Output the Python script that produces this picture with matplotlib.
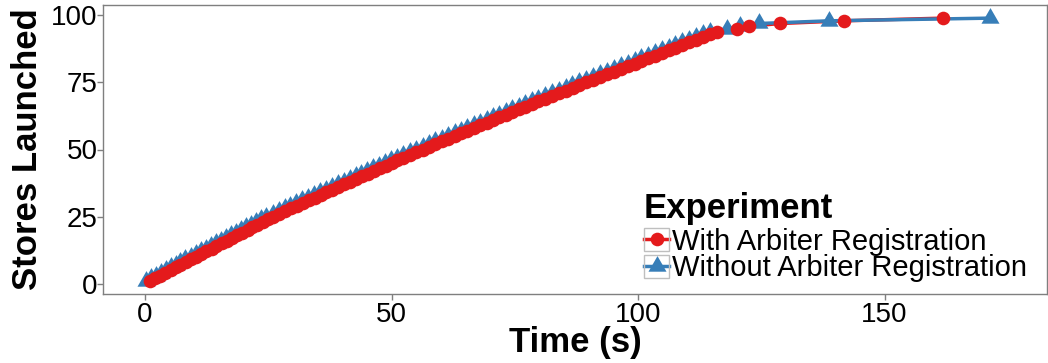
import matplotlib
matplotlib.use("Agg")
import matplotlib.pyplot as plt
from matplotlib.lines import Line2D
from matplotlib.patches import Rectangle

# ---- data ----
with_time = [1.0, 2.0, 3.1, 4.1, 5.2, 6.2, 7.2, 8.3, 9.3, 10.4, 11.4, 12.4, 13.5, 14.5, 15.6,
             16.6, 17.6, 18.7, 19.7, 20.8, 21.8, 22.8, 23.9, 24.9, 26.0,
             27.2, 28.4, 29.6, 30.8, 32.0, 33.2, 34.4, 35.6, 36.8, 38.0, 39.2, 40.4, 41.6, 42.8,
             44.0, 45.2, 46.4, 47.6, 48.8, 50.0, 51.2, 52.4,
             53.7, 55.0, 56.3, 57.6, 58.9, 60.2, 61.5, 62.8, 64.1, 65.4, 66.7, 68.0, 69.3, 70.6,
             71.9, 73.2, 74.5, 75.8, 77.1, 78.4,
             79.8, 81.2, 82.6, 84.0, 85.4, 86.8, 88.1, 89.5, 90.9, 92.3, 93.7, 95.1, 96.5, 97.9,
             99.3, 100.7, 102.0, 103.4, 104.8, 106.2, 107.6, 109.0, 110.4, 111.8, 113.2, 114.6, 116.0,
             120.0, 122.6, 128.9, 141.8, 161.9]
without_time = [0.3, 1.2, 2.2, 3.2, 4.2, 5.2, 6.2, 7.2, 8.2, 9.3, 10.3, 11.3, 12.3, 13.3, 14.4,
                15.4, 16.4, 17.4, 18.4, 19.5, 20.5, 21.5, 22.5, 23.5, 24.6,
                25.9, 27.1, 28.3, 29.5, 30.7, 31.9, 33.1, 34.3, 35.5, 36.7, 37.9, 39.1, 40.3, 41.5,
                42.7, 43.9, 45.1, 46.3, 47.5, 48.7, 49.9, 51.1,
                52.4, 53.7, 55.0, 56.3, 57.6, 58.9, 60.2, 61.5, 62.8, 64.1, 65.4, 66.7, 68.0, 69.3,
                70.6, 71.9, 73.2, 74.5, 75.8, 77.1,
                78.4, 79.8, 81.2, 82.6, 84.0, 85.4, 86.7, 88.1, 89.5, 90.9, 92.3, 93.7, 95.1, 96.5,
                97.9, 99.3, 100.6, 102.0, 103.4, 104.8, 106.2, 107.6, 109.0, 110.4, 111.8, 113.2, 114.6,
                118.0, 120.7, 124.6, 138.8, 171.3]
with_stores = list(range(1, len(with_time) + 1))
without_stores = list(range(1, len(without_time) + 1))

series_labels = ["With Arbiter Registration", "Without Arbiter Registration"]
x_ticks = [0, 50, 100, 150]
y_ticks = [0, 25, 50, 75, 100]

RED = "#E41A1C"
BLUE = "#377EB8"
GRAY = "#7F7F7F"

plt.rcParams['font.family'] = ['Liberation Sans', 'DejaVu Sans']

W, H = 1048, 363
fig = plt.figure(figsize=(W / 100, H / 100), dpi=100)
ax = fig.add_axes([103 / W, 1 - 294 / H, (1047 - 103) / W, (294 - 5) / H])

# ggplot-style triangle: centred on its centroid
TRI = [(0.0, 1.0), (-0.866, -0.5), (0.866, -0.5), (0.0, 1.0)]
LW = 2.5
MS_C = 9.8
MS_T = 15
ax.plot(with_time, with_stores, color=RED, lw=LW, zorder=2)
ax.plot(without_time, without_stores, color=BLUE, lw=LW, zorder=3)
ax.plot(without_time, without_stores, ls='none', marker=TRI, ms=MS_T,
        mec='none', mfc=BLUE, zorder=4)
ax.plot(with_time, with_stores, ls='none', marker='o', ms=MS_C,
        mec='none', mfc=RED, zorder=5)

ax.set_xlim((103 - 145) / 4.93, (1047 - 145) / 4.93)
ax.set_ylim(-3.9, 103.9)
ax.set_xticks(x_ticks)
ax.set_yticks(y_ticks)
ax.tick_params(axis='both', colors=GRAY, labelcolor='black', labelsize=20,
               length=4, width=1, direction='out')
ax.tick_params(axis='y', pad=0)
ax.tick_params(axis='x', pad=2)
for s in ax.spines.values():
    s.set_color(GRAY)
    s.set_linewidth(1.0)

ax.set_xlabel("Time (s)", fontsize=25, fontweight='bold', labelpad=-2)
ax.set_ylabel("Stores Launched", fontsize=25, fontweight='bold', labelpad=5)

handles = [Line2D([], [], color=RED, lw=LW, marker='o', ms=MS_C, mec='none'),
           Line2D([], [], color=BLUE, lw=LW, marker=TRI, ms=MS_T, mec='none')]
leg = ax.legend(handles, series_labels, title="Experiment", loc='upper left',
                bbox_to_anchor=(644 / W, 1 - 192 / H), bbox_transform=fig.transFigure,
                frameon=False, fontsize=21, handlelength=0.86, handleheight=0.83,
                handletextpad=0.1, labelspacing=-0.05, borderpad=0, borderaxespad=0,
                alignment='left')
leg.get_title().set_fontsize(25)
leg.get_title().set_fontweight('bold')
leg._legend_box.sep = 2

fig.canvas.draw()
renderer = fig.canvas.get_renderer()
try:
    rows = leg._legend_handle_box.get_children()[0].get_children()
    for row in rows:
        da = row.get_children()[0]
        bb = da.get_window_extent(renderer)
        fig.patches.append(Rectangle((bb.x0, bb.y0), bb.width, bb.height, fill=False,
                                     edgecolor="#BFBFBF", lw=1.0, transform=None,
                                     figure=fig, zorder=0))
except Exception:
    pass

fig.savefig("out.png", dpi=100)
